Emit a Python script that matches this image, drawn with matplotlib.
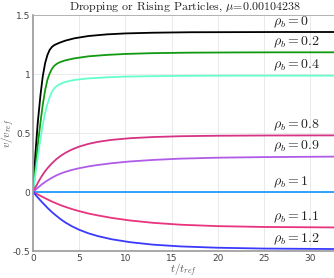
import matplotlib
matplotlib.use("Agg")
import matplotlib.pyplot as plt

plt.rcParams['mathtext.fontset'] = 'cm'

# values
rho_labels = ["0", "0.2", "0.4", "0.8", "0.9", "1", "1.1", "1.2"]
colors = ["#000000", "#129912", "#66ffcc", "#d63384", "#b05ce8",
          "#1e9bff", "#e8347c", "#3a3aff"]

t_fast = [0, 0.25, 0.5, 0.8, 1.05, 1.3, 1.55, 1.8, 2.05, 2.3, 2.6, 2.9, 3.5,
          4.5, 6, 8, 10, 13, 17, 22, 27, 32.6]
v_rho0 = [0, 0.32, 0.58, 0.82, 0.98, 1.09, 1.16, 1.205, 1.23, 1.245, 1.256,
          1.266, 1.283, 1.303, 1.322, 1.336, 1.344, 1.35, 1.354, 1.355, 1.356,
          1.356]
v_rho02 = [0, 0.2, 0.39, 0.59, 0.74, 0.86, 0.95, 1.005, 1.045, 1.07, 1.088,
           1.1, 1.116, 1.133, 1.15, 1.162, 1.17, 1.177, 1.181, 1.183, 1.184,
           1.184]
v_rho04 = [0, 0.15, 0.29, 0.45, 0.57, 0.67, 0.745, 0.805, 0.85, 0.88, 0.9,
           0.915, 0.933, 0.95, 0.963, 0.972, 0.978, 0.982, 0.985, 0.986,
           0.986, 0.986]

t_slow = [0, 0.25, 0.5, 0.75, 1, 1.3, 1.6, 2, 2.5, 3, 3.5, 4.2, 5, 6, 7,
          8.5, 10.5, 13, 16, 20, 25, 32.6]
v_rho08 = [0, 0.038, 0.075, 0.11, 0.142, 0.176, 0.205, 0.24, 0.277, 0.307,
           0.332, 0.36, 0.385, 0.408, 0.425, 0.442, 0.456, 0.466, 0.473,
           0.477, 0.479, 0.48]
v_rho09 = [0, 0.018, 0.035, 0.052, 0.068, 0.085, 0.1, 0.119, 0.14, 0.157,
           0.171, 0.187, 0.202, 0.217, 0.229, 0.244, 0.259, 0.272, 0.283,
           0.291, 0.296, 0.3]
v_rho1 = [0] * len(t_slow)
v_rho11 = [0, -0.01, -0.02, -0.03, -0.04, -0.052, -0.064, -0.079, -0.096,
           -0.112, -0.126, -0.144, -0.162, -0.182, -0.198, -0.219, -0.241,
           -0.261, -0.277, -0.289, -0.296, -0.3]
v_rho12 = [0, -0.023, -0.045, -0.067, -0.088, -0.113, -0.137, -0.167, -0.2,
           -0.231, -0.258, -0.29, -0.32, -0.35, -0.373, -0.4, -0.425, -0.446,
           -0.461, -0.472, -0.479, -0.483]

series = [(t_fast, v_rho0), (t_fast, v_rho02), (t_fast, v_rho04),
          (t_slow, v_rho08), (t_slow, v_rho09), (t_slow, v_rho1),
          (t_slow, v_rho11), (t_slow, v_rho12)]

fig = plt.figure(figsize=(3.34, 2.78), dpi=100)
ax = fig.add_axes([0.099, 0.097, 0.901, 0.849])

for (t, v), lab, c in zip(series, rho_labels, colors):
    ax.plot(t, v, color=c, lw=1.3)
    ax.text(26.0, v[-1] + 0.02, r"$\rho_b = %s$" % lab, fontsize=10,
            ha='left', va='bottom', color='#222222')

ax.set_xlim(0, 32.6)
ax.set_ylim(-0.5, 1.5)
ax.set_xticks([0, 5, 10, 15, 20, 25, 30])
ax.set_yticks([-0.5, 0, 0.5, 1, 1.5])
ax.set_yticklabels(["-0.5", "0", "0.5", "1", "1.5"])
ax.grid(True, color='#e6e6e6', lw=0.6)
ax.set_axisbelow(True)
ax.tick_params(length=0, labelsize=6.5, colors='#444444', pad=2)

for s in ['left', 'bottom']:
    ax.spines[s].set_color('#999999')
    ax.spines[s].set_linewidth(1.2)
ax.spines['top'].set_color('#aaaaaa')
ax.spines['top'].set_linewidth(0.6)
ax.spines['right'].set_visible(False)

ax.set_xlabel(r"$t/t_{ref}$", fontsize=8, color='#555555', labelpad=-1)
ax.set_ylabel(r"$v/v_{ref}$", fontsize=8, color='#555555', labelpad=-3)
fig.text(0.553, 0.972, r"Dropping or Rising Particles, $\mu$=0.00104238",
         fontsize=8.6, family='cmr10', color='#222222', ha='center', va='center')

plt.savefig("out.png", dpi=100)
